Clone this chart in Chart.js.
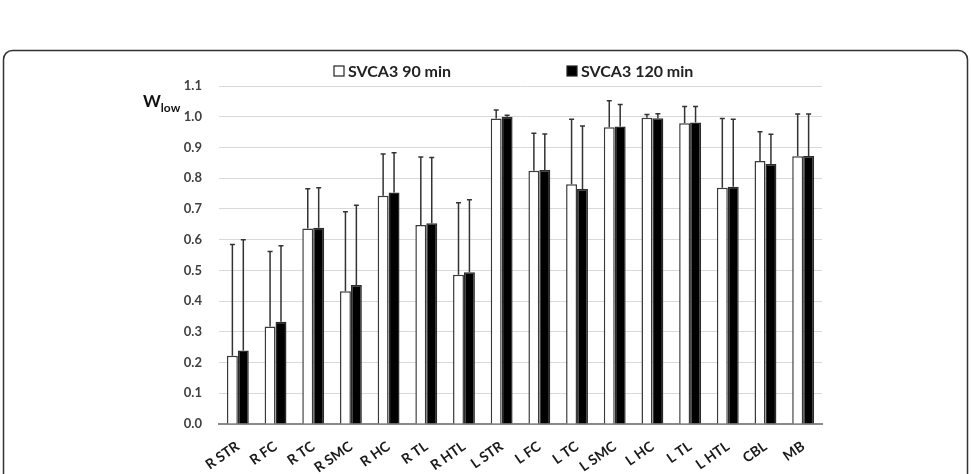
<!DOCTYPE html>
<html>
<head>
<meta charset="utf-8">
<script src="https://cdn.jsdelivr.net/npm/chart.js@4"></script>
<style>
  body { margin: 0; background: #fff; }
  canvas { display: block; }
</style>
</head>
<body>
<canvas id="myChart" width="971" height="474"></canvas>
<script>
// regions on the x axis
var regions = ["R STR", "R FC", "R TC", "R SMC", "R HC", "R TL", "R HTL", "L STR",
               "L FC", "L TC", "L SMC", "L HC", "L TL", "L HTL", "CBL", "MB"];

// w_low after 90 min and 120 min
var wlow90  = [0.222, 0.317, 0.636, 0.432, 0.743, 0.648, 0.486, 0.994,
               0.824, 0.780, 0.966, 0.997, 0.979, 0.769, 0.856, 0.871];
var wlow120 = [0.239, 0.333, 0.639, 0.452, 0.753, 0.653, 0.494, 1.000,
               0.827, 0.765, 0.968, 0.995, 0.981, 0.772, 0.846, 0.872];

// upper error bars (SD)
var sd90  = [0.362, 0.244, 0.130, 0.259, 0.136, 0.221, 0.234, 0.028,
             0.122, 0.212, 0.086, 0.010, 0.054, 0.225, 0.095, 0.138];
var sd120 = [0.361, 0.247, 0.130, 0.260, 0.130, 0.214, 0.236, 0.005,
             0.117, 0.205, 0.072, 0.015, 0.052, 0.220, 0.097, 0.137];

var yTicks = [0.0, 0.1, 0.2, 0.3, 0.4, 0.5, 0.6, 0.7, 0.8, 0.9, 1.0, 1.1];

var fontName = "Lato, 'Open Sans', sans-serif";
var textColor = "#404040";

// frame round the whole figure
var framePlugin = {
  id: "frame",
  beforeDraw: function(chart) {
    let ctx = chart.ctx;
    let x0 = 3.5, y0 = 50.5, x1 = 967.5, y1 = 490, r = 9;
    ctx.save();
    ctx.fillStyle = "#fff";
    ctx.fillRect(0, 0, chart.width, chart.height);
    ctx.strokeStyle = "#333";
    ctx.lineWidth = 1.5;
    ctx.beginPath();
    ctx.moveTo(x0, y1);
    ctx.lineTo(x0, y0 + r);
    ctx.arcTo(x0, y0, x0 + r, y0, r);
    ctx.lineTo(x1 - r, y0);
    ctx.arcTo(x1, y0, x1, y0 + r, r);
    ctx.lineTo(x1, y1);
    ctx.stroke();
    ctx.restore();
  }
};

// upward error bars with a small cap
var errorBarPlugin = {
  id: "errorBars",
  afterDatasetsDraw: function(chart) {
    let ctx = chart.ctx;
    let yScale = chart.scales.y;
    ctx.save();
    ctx.strokeStyle = "#333";
    ctx.lineWidth = 1.5;
    chart.data.datasets.forEach(function(ds, i) {
      let meta = chart.getDatasetMeta(i);
      meta.data.forEach(function(bar, j) {
        let yBase = yScale.getPixelForValue(ds.data[j]);
        let yTop = yScale.getPixelForValue(ds.data[j] + ds.errors[j]);
        ctx.beginPath();
        ctx.moveTo(bar.x, yBase);
        ctx.lineTo(bar.x, yTop);
        ctx.moveTo(bar.x - 2.5, yTop);
        ctx.lineTo(bar.x + 2.5, yTop);
        ctx.stroke();
      });
    });
    ctx.restore();
  }
};

// legend above the plot and the w_low axis label
var labelsPlugin = {
  id: "labels",
  afterDraw: function(chart) {
    let ctx = chart.ctx;
    let legendX = [334, 567];
    let legendY = 71;
    ctx.save();
    ctx.font = "bold 16px " + fontName;
    ctx.textBaseline = "middle";
    chart.data.datasets.forEach(function(ds, i) {
      let x = legendX[i];
      ctx.fillStyle = ds.backgroundColor;
      ctx.fillRect(x, legendY - 5, 10, 10);
      ctx.strokeStyle = "#222";
      ctx.lineWidth = 1.2;
      ctx.strokeRect(x, legendY - 5, 10, 10);
      ctx.fillStyle = "#222";
      ctx.fillText(ds.label, x + 14, legendY + 1);
    });

    ctx.textBaseline = "alphabetic";
    ctx.fillStyle = "#111";
    ctx.font = "bold 17px " + fontName;
    ctx.fillText("W", 143, 107);
    let w = ctx.measureText("W").width;
    ctx.font = "bold 12px " + fontName;
    ctx.fillText("low", 143 + w, 112);
    ctx.restore();
  }
};

var ctx = document.getElementById("myChart").getContext("2d");
var myChart = new Chart(ctx, {
  type: "bar",
  data: {
    labels: regions,
    datasets: [
      {
        label: "SVCA3 90 min",
        data: wlow90,
        errors: sd90,
        backgroundColor: "#ffffff",
        borderColor: "#3a3a3a",
        borderWidth: 1.5,
        categoryPercentage: 0.58,
        barPercentage: 1.0
      },
      {
        label: "SVCA3 120 min",
        data: wlow120,
        errors: sd120,
        backgroundColor: "#000000",
        borderColor: "#2a2a2a",
        borderWidth: 1.5,
        categoryPercentage: 0.58,
        barPercentage: 1.0
      }
    ]
  },
  options: {
    responsive: false,
    animation: false,
    devicePixelRatio: 1,
    layout: { padding: { left: 159, right: 149, top: 86, bottom: 0 } },
    plugins: {
      legend: { display: false },
      tooltip: { enabled: false }
    },
    scales: {
      x: {
        grid: { display: false },
        border: { display: true, color: "#8a8a8a", width: 2 },
        ticks: {
          autoSkip: false,
          maxRotation: 35,
          minRotation: 35,
          padding: 6,
          color: "#1a1a1a",
          font: { family: fontName, size: 14, weight: "bold" }
        },
        afterFit: function(scale) { scale.height = 50; }
      },
      y: {
        min: 0,
        max: 1.1,
        afterBuildTicks: function(scale) {
          scale.ticks = yTicks.map(function(v) { return { value: v }; });
        },
        grid: { color: "#d9d9d9", lineWidth: 1, drawTicks: false },
        border: { display: false },
        ticks: {
          padding: 17,
          color: textColor,
          font: { family: fontName, size: 13, weight: "bold" },
          callback: function(v) { return Number(v).toFixed(1); }
        },
        afterFit: function(scale) { scale.width = 60; }
      }
    }
  },
  plugins: [framePlugin, errorBarPlugin, labelsPlugin]
});
</script>
</body>
</html>
